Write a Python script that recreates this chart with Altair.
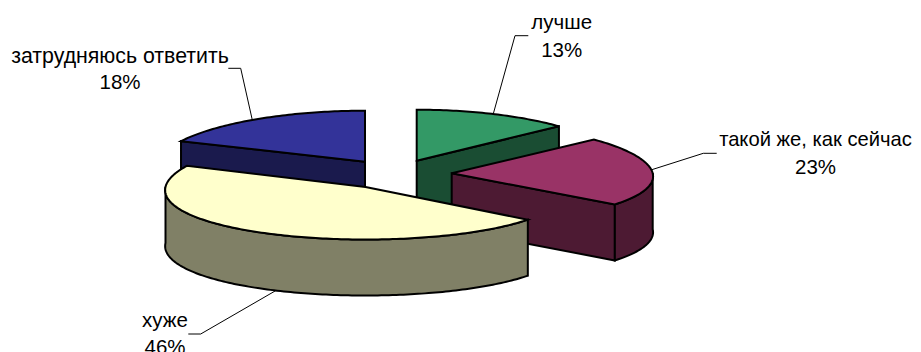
import math
import altair as alt
import pandas as pd

# ---- chart values ----
categories = ["лучше", "такой же, как сейчас", "хуже", "затрудняюсь ответить"]
values = [13.2, 22.5, 45.9, 18.4]  # the labels show them rounded
percent_labels = ["13%", "23%", "46%", "18%"]
top_colors = ["#339966", "#993366", "#FFFFCC", "#333399"]
side_colors = ["#1A4D33", "#4D1A33", "#808066", "#1A1A4D"]

# ---- layout of the 3D pie (image pixels) ----
APEX = [(416.7, 160.7), (451.7, 173.3), (365.5, 187.0), (365.0, 161.7)]  # exploded centres
SLICE_RX = [201.0, 201.0, 200.0, 206.0]
SLICE_RY = [51.0, 50.0, 52.5, 51.0]
DEPTH, PERSPECTIVE = 56.0, 0.06
LEADER_SHIFT_DEG = [0, -2, -6, -2]
LABEL_ELBOW = [[(515, 35.7), (528.3, 35.7)], [(703.3, 153.3), (716.7, 153.3)],
               [(200.7, 334), (188.3, 334)], [(240.7, 68.3), (228.3, 68.3)]]
LABEL_POS = [(561.7, 29, 57), (815.5, 145.7, 174), (165, 326.7, 353.7), (120, 62.7, 89.3)]
LABEL_SIZE = [20.5, 20.2, 20.5, 21.3]
OFFSET = 8  # page margin


def pt(i, deg, drop=0.0):
    t = math.radians(deg)
    cx, cy = APEX[i]
    x = cx + SLICE_RX[i] * math.sin(t) * (1 - PERSPECTIVE * math.cos(t))
    y = cy - SLICE_RY[i] * math.cos(t) + drop
    return [x - OFFSET, y - OFFSET]


def apex(i, drop=0.0):
    return [APEX[i][0] - OFFSET, APEX[i][1] + drop - OFFSET]


def arc(i, a, b, drop=0.0):
    n = max(2, int(abs(b - a)))
    return [pt(i, a + (b - a) * k / n, drop) for k in range(n + 1)]


def feature(ring, fill):
    return {"type": "Feature", "properties": {"fill": fill},
            "geometry": {"type": "Polygon", "coordinates": [ring + [ring[0]]]}}


starts, acc = [], 0.0
for v in values:
    starts.append(acc / sum(values) * 360)
    acc += v
ends = starts[1:] + [360.0]

features = []
# back to front: green, blue, maroon, yellow
for i in [0, 3, 1, 2]:
    a, b = starts[i], ends[i]
    # exposed cut faces
    if i == 0 or i == 1:
        features.append(feature([apex(i), pt(i, b), pt(i, b, DEPTH), apex(i, DEPTH)], side_colors[i]))
    if i == 3:
        features.append(feature([apex(i), pt(i, a), pt(i, a, DEPTH), apex(i, DEPTH)], side_colors[i]))
    # outer wall, front half only
    wa, wb = max(a, 90), min(b, 270)
    if wb > wa:
        features.append(feature(arc(i, wa, wb) + arc(i, wb, wa, DEPTH), side_colors[i]))
    # top face
    features.append(feature([apex(i)] + arc(i, a, b), top_colors[i]))

pie = alt.Chart(alt.Data(values=features)).mark_geoshape(
    stroke="black", strokeWidth=2, strokeJoin="miter"
).encode(
    fill=alt.Fill("properties.fill:N", scale=None, legend=None)
).project(type="identity", scale=1, translate=[0, 0])

rows = []
for i in range(len(values)):
    mid = (starts[i] + ends[i]) / 2 + LEADER_SHIFT_DEG[i]
    drop = DEPTH if i == 2 else 0.0
    path = [pt(i, mid, drop)] + [[x - OFFSET, y - OFFSET] for x, y in LABEL_ELBOW[i]]
    for k, (x, y) in enumerate(path):
        rows.append({"cat": categories[i], "k": k, "x": x, "y": y})
leaders = alt.Chart(pd.DataFrame(rows)).mark_line(color="black", strokeWidth=1).encode(
    x=alt.X("x:Q", scale=None, axis=None),
    y=alt.Y("y:Q", scale=None, axis=None),
    detail="cat:N",
    order="k:Q",
)

text_rows = []
for i, (x, y1, y2) in enumerate(LABEL_POS):
    text_rows.append({"t": categories[i], "x": x - OFFSET, "y": y1 - OFFSET, "s": LABEL_SIZE[i]})
    text_rows.append({"t": percent_labels[i], "x": x - OFFSET, "y": y2 - OFFSET, "s": 20.5})
labels = alt.Chart(pd.DataFrame(text_rows)).mark_text(
    font="Liberation Sans", align="center", baseline="alphabetic", color="black"
).encode(
    x=alt.X("x:Q", scale=None, axis=None),
    y=alt.Y("y:Q", scale=None, axis=None),
    size=alt.Size("s:Q", scale=None, legend=None),
    text="t:N",
)

chart = alt.layer(pie, leaders, labels).properties(
    width=905, height=344, padding=0,
    autosize=alt.AutoSizeParams(type="none"),
    background="white",
).configure_view(stroke=None)

chart.save("out.html", embed_options={"renderer": "svg", "actions": False})
